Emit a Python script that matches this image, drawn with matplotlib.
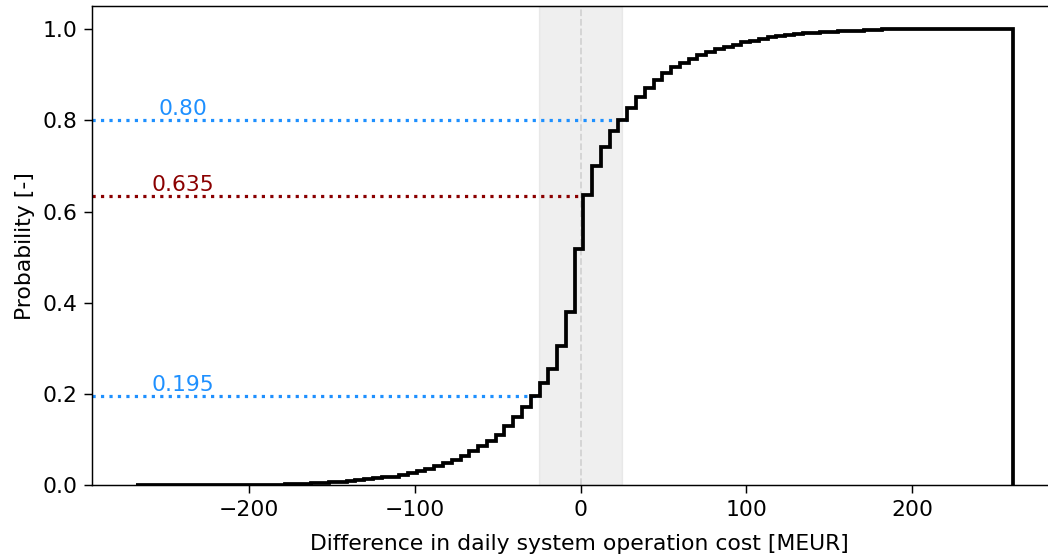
import numpy as np
import matplotlib
matplotlib.use("Agg")
import matplotlib.pyplot as plt

# Bin range of the cost difference histogram [MEUR], 100 bins
x_min = -268.2
x_max = 261.0
n_bins = 100

# Cumulative probability per bin
cdf = [0.0, 0.0, 0.0, 0.0, 0.0, 0.0, 0.0, 0.0, 0.0, 0.0,
       0.0, 0.0, 0.0, 0.0005, 0.0007, 0.001, 0.0013, 0.0017, 0.002, 0.003,
       0.004, 0.005, 0.006, 0.008, 0.0095, 0.011, 0.013, 0.015, 0.017, 0.019,
       0.022, 0.026, 0.031, 0.036, 0.042, 0.048, 0.055, 0.064, 0.074, 0.085,
       0.096, 0.110, 0.129, 0.149, 0.1725, 0.195, 0.225, 0.255, 0.306, 0.379,
       0.517, 0.637, 0.701, 0.742, 0.776, 0.801, 0.827, 0.851, 0.871, 0.888,
       0.903, 0.916, 0.926, 0.935, 0.943, 0.950, 0.956, 0.961, 0.966, 0.971,
       0.975, 0.979, 0.982, 0.985, 0.988, 0.990, 0.991, 0.992, 0.993, 0.994,
       0.995, 0.996, 0.997, 0.998, 0.999, 0.9995, 1.0, 1.0, 1.0, 1.0,
       1.0, 1.0, 1.0, 1.0, 1.0, 1.0, 1.0, 1.0, 1.0, 1.0]

# Marked probability levels, where they meet the curve, and their labels
levels = [0.80, 0.635, 0.195]
level_x = [28.1, 1.7, -24.8]
level_labels = ["0.80", "0.635", "0.195"]
level_colors = ["dodgerblue", "darkred", "dodgerblue"]

# Band around zero
band = (-25, 25)

edges = np.linspace(x_min, x_max, n_bins + 1)

fig = plt.figure(figsize=(10.48, 5.56), dpi=100)
ax = fig.add_axes([0.0878, 0.1273, 0.921, 0.8613])

xlim_left = -294.7
ax.set_xlim(xlim_left, 287.5)
ax.set_ylim(0, 1.05)

ax.axvspan(band[0], band[1], color="gray", alpha=0.12, zorder=0)
ax.axvline(0, color="lightgray", linestyle="--", linewidth=1.3, zorder=1)

for y, xe, lab, c in zip(levels, level_x, level_labels, level_colors):
    ax.hlines(y, xlim_left, xe, colors=c, linestyles=":", linewidth=2.3, zorder=2)
    ax.text(-240, y + 0.002, lab, color=c, fontsize=15.75, ha="center", va="bottom")

ax.stairs(cdf, edges, baseline=0, color="black", linewidth=2.7, zorder=3)

ax.set_xticks([-200, -100, 0, 100, 200])
ax.set_yticks([0.0, 0.2, 0.4, 0.6, 0.8, 1.0])
ax.tick_params(labelsize=15.75, length=5.8, width=1.05, pad=4.6)
for s in ax.spines.values():
    s.set_linewidth(1.05)

ax.set_xlabel("Difference in daily system operation cost [MEUR]", fontsize=15.75,
              x=0.5045, labelpad=10)
ax.set_ylabel("Probability [-]", fontsize=15.75, labelpad=5.5)

fig.savefig("out.png", dpi=100)
